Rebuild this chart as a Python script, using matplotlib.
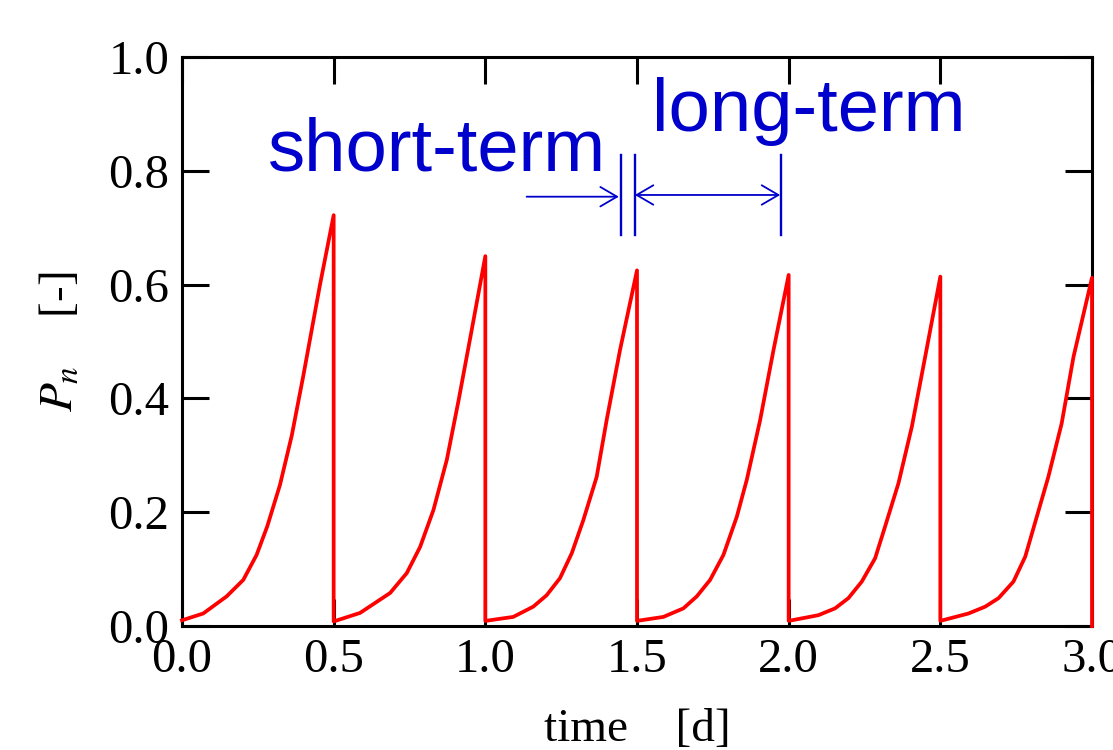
import matplotlib
matplotlib.use("Agg")
import matplotlib.pyplot as plt

# ---- data ----
time_d = [0.000, 0.070, 0.147, 0.202, 0.246, 0.281, 0.323, 0.362, 0.400, 0.455, 0.500,
          0.500, 0.587, 0.686, 0.741, 0.785, 0.829, 0.873, 0.912, 0.955, 1.000,
          1.000, 1.092, 1.158, 1.202, 1.246, 1.285, 1.323, 1.367, 1.400, 1.444, 1.500,
          1.500, 1.587, 1.653, 1.697, 1.741, 1.785, 1.829, 1.862, 1.906, 1.950, 2.000,
          2.000, 2.098, 2.153, 2.197, 2.241, 2.285, 2.318, 2.362, 2.406, 2.450, 2.500,
          2.500, 2.593, 2.648, 2.692, 2.741, 2.780, 2.812, 2.856, 2.900, 2.939, 3.000,
          3.000]
Pn = [0.010, 0.022, 0.052, 0.081, 0.125, 0.175, 0.248, 0.335, 0.440, 0.600, 0.722,
      0.008, 0.023, 0.058, 0.093, 0.139, 0.204, 0.292, 0.397, 0.520, 0.650,
      0.009, 0.016, 0.034, 0.054, 0.084, 0.128, 0.186, 0.262, 0.362, 0.485, 0.625,
      0.009, 0.016, 0.031, 0.052, 0.081, 0.125, 0.192, 0.257, 0.362, 0.485, 0.617,
      0.009, 0.019, 0.031, 0.049, 0.078, 0.119, 0.175, 0.251, 0.350, 0.473, 0.614,
      0.009, 0.022, 0.034, 0.049, 0.078, 0.122, 0.181, 0.262, 0.356, 0.473, 0.612,
      0.000]

x_ticks = [0.0, 0.5, 1.0, 1.5, 2.0, 2.5, 3.0]
y_ticks = [0.0, 0.2, 0.4, 0.6, 0.8, 1.0]

# annotation positions (data coords)
short_arrow = (1.136, 1.440, 0.7545)
long_arrow = (1.493, 1.972, 0.7575)
bars_x = [1.446, 1.493, 1.974]
bars_y = (0.687, 0.828)

plt.rcParams['font.family'] = ['Liberation Serif', 'DejaVu Serif']
plt.rcParams['mathtext.fontset'] = 'stix'

fig = plt.figure(figsize=(11.13, 7.5), dpi=100)
ax = fig.add_axes([182/1113, 1-626/750, (1092-182)/1113, (626-57)/750])

ax.plot(time_d, Pn, color='#ff0000', lw=2.7, clip_on=False, zorder=5,
        solid_joinstyle='round')

ax.set_xlim(0, 3.0)
ax.set_ylim(0, 1.0)
ax.set_xticks(x_ticks)
ax.set_yticks(y_ticks)
ax.set_xticklabels([f"{v:.1f}" for v in x_ticks])
ax.set_yticklabels([f"{v:.1f}" for v in y_ticks])
ax.tick_params(direction='in', length=19.5, width=2.2, labelsize=35,
               top=True, right=True, pad=9)
for s in ax.spines.values():
    s.set_linewidth(2.2)

ax.set_xlabel('time    [d]', fontsize=34, labelpad=19)
ax.set_ylabel(r'$P_n$    [-]', fontsize=34, labelpad=19)

blue = '#0000cc'
ax.text(0.284, 0.800, 'short-term', color=blue, fontsize=53.5,
        family=['Liberation Sans', 'DejaVu Sans'], ha='left', va='baseline')
ax.text(1.550, 0.870, 'long-term', color=blue, fontsize=53.5,
        family=['Liberation Sans', 'DejaVu Sans'], ha='left', va='baseline')

ax.annotate('', xy=(short_arrow[1], short_arrow[2]), xytext=(short_arrow[0], short_arrow[2]),
            arrowprops=dict(arrowstyle='->,head_length=0.6,head_width=0.35',
                            color=blue, lw=1.3, mutation_scale=20,
                            shrinkA=0, shrinkB=0))
ax.annotate('', xy=(long_arrow[1], long_arrow[2]), xytext=(long_arrow[0], long_arrow[2]),
            arrowprops=dict(arrowstyle='<->,head_length=0.6,head_width=0.35',
                            color=blue, lw=1.3, mutation_scale=20,
                            shrinkA=0, shrinkB=0))
for bx in bars_x:
    ax.plot([bx, bx], list(bars_y), color=blue, lw=1.7)

fig.savefig('out.png', dpi=100)
